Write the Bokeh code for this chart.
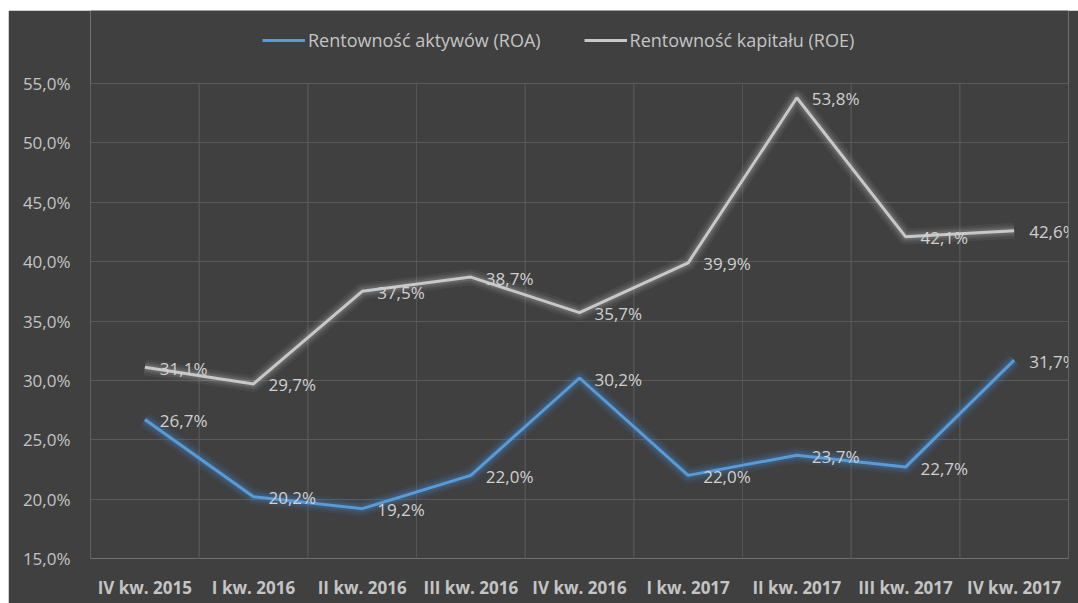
from bokeh.plotting import figure
from bokeh.models import (FactorRange, Range1d, FixedTicker, ColumnDataSource,
                          LabelSet, Legend, LegendItem)
from bokeh.transform import dodge
from bokeh.core.properties import value
from bokeh.embed import file_html
from bokeh.resources import INLINE

categories = ["IV kw. 2015", "I kw. 2016", "II kw. 2016", "III kw. 2016", "IV kw. 2016",
              "I kw. 2017", "II kw. 2017", "III kw. 2017", "IV kw. 2017"]
roa = [26.7, 20.2, 19.2, 22.0, 30.2, 22.0, 23.7, 22.7, 31.7]
roe = [31.1, 29.7, 37.5, 38.7, 35.7, 39.9, 53.8, 42.1, 42.6]
y_ticks = [15, 20, 25, 30, 35, 40, 45, 50, 55]
series_names = ["Rentowność aktywów (ROA)", "Rentowność kapitału (ROE)"]

BG = "#404040"
BLUE = "#5B9BD5"
GRAY = "#C8C8C8"
TXT = "#C4C4C4"
FONT = "Open Sans"

def fmt(v):
    return f"{v:.1f}".replace(".", ",") + "%"

# plot area: value axis spans 475 px; extra room above (73 px) holds the legend
px_per_unit = 475 / (y_ticks[-1] - y_ticks[0])
y_end = y_ticks[-1] + 73 / px_per_unit

p = figure(width=1070, height=593, x_range=FactorRange(factors=categories),
           y_range=Range1d(y_ticks[0], y_end), output_backend="svg", toolbar_location=None,
           min_border_left=82, min_border_right=10, min_border_top=0, min_border_bottom=45)
p.margin = (10, 0, 0, 8)
p.background_fill_color = BG
p.border_fill_color = BG
p.outline_line_color = None

# y axis
p.yaxis.ticker = FixedTicker(ticks=y_ticks)
p.yaxis.major_label_overrides = {t: fmt(t) for t in y_ticks}
p.yaxis.axis_line_color = None
p.yaxis.major_tick_line_color = None
p.yaxis.minor_tick_line_color = None
p.yaxis.major_tick_out = 0
p.yaxis.major_label_standoff = 20
p.yaxis.major_label_text_color = TXT
p.yaxis.major_label_text_font = FONT
p.yaxis.major_label_text_font_size = "17px"

# x axis
p.xaxis.axis_line_color = None
p.xaxis.major_tick_line_color = None
p.xaxis.major_tick_out = 0
p.xaxis.major_label_standoff = 17
p.xaxis.major_label_text_color = TXT
p.xaxis.major_label_text_font = FONT
p.xaxis.major_label_text_font_style = "bold"
p.xaxis.major_label_text_font_size = "17px"

# horizontal grid at value ticks
p.ygrid[0].ticker = FixedTicker(ticks=y_ticks[1:])
p.ygrid[0].grid_line_color = "#5A5A5A"
p.ygrid[0].grid_line_width = 1
p.xgrid.visible = False

src = ColumnDataSource(dict(cat=categories, roa=roa, roe=roe,
                            y0=[y_ticks[0]] * len(categories), y1=[y_ticks[-1]] * len(categories),
                            roa_t=[fmt(v) for v in roa], roe_t=[fmt(v) for v in roe]))

# vertical grid lines at category boundaries (from 15% to 55%)
for off in (-0.5, 0.5):
    xx = dodge("cat", off, range=p.x_range)
    p.segment(x0=xx, y0="y0", x1=xx, y1="y1", source=src, line_color="#555555",
              line_width=1, level="underlay")

# glows
for w, a in [(16, 0.06), (11, 0.08), (7, 0.12)]:
    p.line("cat", "roe", source=src, line_color="#E0E0E0", line_width=w, line_alpha=a, line_join="round")
for w, a in [(16, 0.08), (11, 0.11), (7, 0.18)]:
    p.line("cat", "roa", source=src, line_color="#3F8FE0", line_width=w, line_alpha=a, line_join="round")

r_roe = p.line("cat", "roe", source=src, line_color=GRAY, line_width=3)
r_roa = p.line("cat", "roa", source=src, line_color=BLUE, line_width=3)

for col in ["roa", "roe"]:
    lbl = LabelSet(x="cat", y=col, text=col + "_t", source=src, x_offset=15, y_offset=-1,
                   text_baseline="middle", text_align="left", text_color="#D0D0D0",
                   text_font=value(FONT), text_font_size="17px")
    p.add_layout(lbl)

legend = Legend(items=[LegendItem(label=series_names[0], renderers=[r_roa]),
                       LegendItem(label=series_names[1], renderers=[r_roe])],
                orientation="horizontal", location=(172, 506),
                background_fill_alpha=0, border_line_color=None,
                label_text_color=TXT, label_text_font=FONT, label_text_font_size="18px",
                glyph_width=43, glyph_height=20, label_standoff=3, spacing=43,
                padding=0, margin=0, label_height=20)
p.add_layout(legend, "center")

open("out.html", "w").write(file_html(p, INLINE))
